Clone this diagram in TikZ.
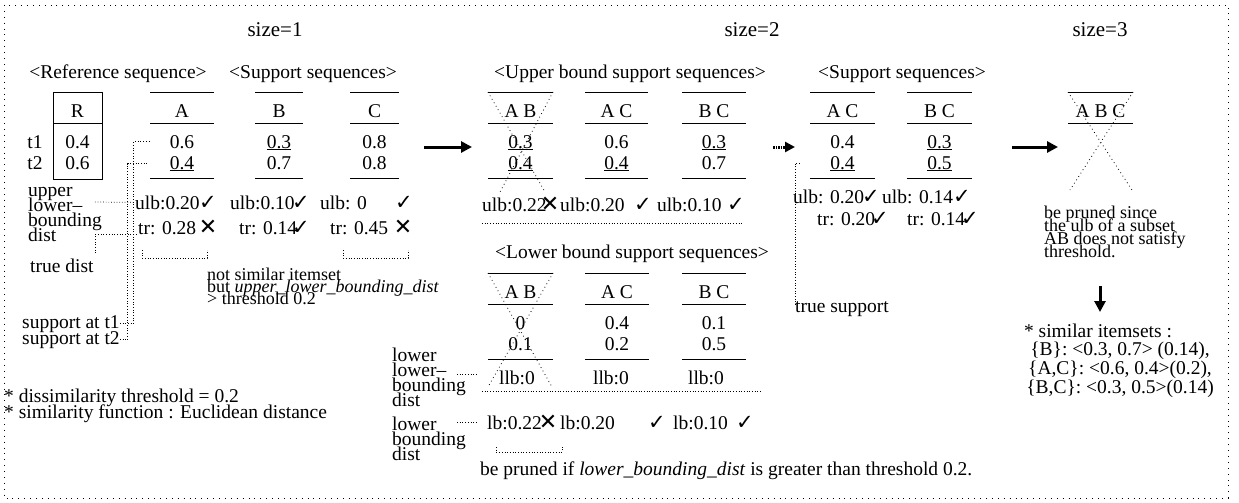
\documentclass[tikz,border=0pt]{standalone}
\usepackage{fontspec}
\setmainfont{Liberation Serif}
\newfontfamily\symfont{DejaVu Sans}
\usetikzlibrary{arrows.meta}

\newcommand\okmark{{\symfont\fontsize{21}{21}\selectfont ✓}}
\newcommand\nomark{{\symfont\fontsize{22}{22}\selectfont ✕}}
\newcommand\tightfont[2]{\fontsize{#1}{#2}\selectfont\setlength{\lineskiplimit}{-100pt}\setlength{\lineskip}{0pt}}

\tikzset{
    txt/.style={inner sep=0pt, anchor=base, font={\tightfont{19.5}{14.7}}},
    lbl/.style={txt, anchor=base west, align=left},
    ttl/.style={txt, font=\fontsize{21}{21}\selectfont},
    rule/.style={line width=0.8pt},
    leader/.style={dotted, line width=0.7pt},
    cutx/.style={dash pattern=on 0.8pt off 3.2pt, line width=0.8pt},
    border/.style={dash pattern=on 0.9pt off 5pt, line width=0.9pt},
    bigarrow/.style={line width=3pt, -{Triangle[length=11pt,width=11pt]}},
    dotarrow/.style={line width=3pt, dash pattern=on 1.5pt off 1pt, -{Triangle[length=10pt,width=10pt]}},
}

\begin{document}
\begin{tikzpicture}[x=1pt, y=-1pt]
    % one support-sequence column: name, left, right, top, header, value t1, value t2
    \def\seqcol#1#2#3#4#5#6#7{
        \draw [rule] (#2,#4) -- (#3,#4) (#2,#4+31) -- (#3,#4+31) (#2,#4+86) -- (#3,#4+86);
        \node [txt] (#1-h) at ({(#2+#3)/2},#4+25) {#5};
        \node [txt] (#1-1) at ({(#2+#3)/2},#4+56) {#6};
        \node [txt] (#1-2) at ({(#2+#3)/2},#4+77) {#7};
    }

    \useasboundingbox (0,0) rectangle (1239,503);
    \draw [border] (4,5) rectangle (1228,498);

    % size = 1
    \node [ttl] (s1) at (275,37) {size=1};
    \node [txt] (refseq) at (118,78) {<Reference sequence>};
    \node [txt] (supseq1) at (313,78) {<Support sequences>};

    \draw [rule] (53,92) rectangle (102,179);
    \draw [rule] (53,123) -- (102,123);
    \node [txt] (R-h) at (77.5,117) {R};
    \node [txt] (R-1) at (77.5,148) {0.4};
    \node [txt] (R-2) at (77.5,169) {0.6};
    \node [txt] (t1) at (35,148) {t1};
    \node [txt] (t2) at (35,169) {t2};

    \seqcol{A}{150}{214}{92}{A}{0.6}{\underline{0.4}}
    \seqcol{B}{255}{303}{92}{B}{\underline{0.3}}{0.7}
    \seqcol{C}{350}{399}{92}{C}{0.8}{0.8}

    \node [lbl] (ulbA) at (135,209) {ulb:0.20};
    \node [txt] (ulbA-m) at (208,209) {\okmark};
    \node [lbl] (trA) at (138,234) {tr: 0.28};
    \node [txt] (trA-m) at (208,234) {\nomark};
    \node [lbl] (ulbB) at (230,209) {ulb:0.10};
    \node [txt] (ulbB-m) at (301,209) {\okmark};
    \node [lbl] (trB) at (239,234) {tr: 0.14};
    \node [txt] (trB-m) at (301,234) {\okmark};
    \node [lbl] (ulbC) at (320,209) {ulb: 0};
    \node [txt] (ulbC-m) at (404,209) {\okmark};
    \node [lbl] (trC) at (330,234) {tr: 0.45};
    \node [txt] (trC-m) at (403,234) {\nomark};

    \node [lbl] (uldist) at (28,241) {upper\\lower–\\bounding\\dist};
    \node [lbl] (truedist) at (30,272) {true dist};
    \node [lbl] (st1) at (22,328) {support at t1};
    \node [lbl] (st2) at (22,344) {support at t2};

    \coordinate (ul-end) at (95,202);
    \coordinate (td-end) at (95,253);
    \draw [leader] (ul-end) -- (ulbA.west);
    \draw [leader] (td-end) |- (trA.south west);
    \draw [leader] (st1.east) -| ([xshift=-36pt]A-1.west) -- ([xshift=-21pt]A-1.west);
    \draw [leader] (st2.east) -| ([xshift=-42pt]A-2.west) -- ([xshift=-21pt]A-2.west);

    \draw [leader] (142,250) |- (207,258) -- (207,250);
    \draw [leader] (343,250) |- (408,258) -- (408,250);
    \node [lbl, font={\tightfont{18}{12}}] (note1) at (207,304)
        {not similar itemset\\but \textit{upper\_lower\_bounding\_dist}\\> threshold 0.2};

    \node [lbl] (thr) at (4,402) {* dissimilarity threshold = 0.2};
    \node [lbl] (simf) at (4,418) {* similarity function : Euclidean distance};

    \draw [bigarrow] (424,147) -- (472,147);

    % size = 2, upper bound
    \node [ttl] (s2) at (752,37) {size=2};
    \node [txt] (ubss) at (630,78) {<Upper bound support sequences>};
    \seqcol{uAB}{488}{553}{92}{A B}{\underline{0.3}}{\underline{0.4}}
    \seqcol{uAC}{585}{648}{92}{A C}{0.6}{\underline{0.4}}
    \seqcol{uBC}{682}{746}{92}{B C}{\underline{0.3}}{0.7}
    \draw [cutx] (488,92) -- (545,192) (553,92) -- (500,192);

    \node [lbl] (ulbAB) at (482,211) {ulb:0.22};
    \node [txt] (ulbAB-m) at (550,211) {\nomark};
    \node [lbl] (ulbAC) at (560,211) {ulb:0.20};
    \node [txt] (ulbAC-m) at (643,211) {\okmark};
    \node [lbl] (ulbBC) at (657,211) {ulb:0.10};
    \node [txt] (ulbBC-m) at (736,211) {\okmark};
    \draw [leader] (482,223) -- (743,223);

    % size = 2, lower bound
    \node [txt] (lbss) at (632,258) {<Lower bound support sequences>};
    \seqcol{lAB}{488}{553}{273}{A B}{0}{0.1}
    \seqcol{lAC}{585}{649}{273}{A C}{0.4}{0.2}
    \seqcol{lBC}{682}{746}{273}{B C}{0.1}{0.5}
    \draw [cutx] (488,273) -- (552,387) (553,273) -- (488,387);

    \node [txt] (llbAB) at (517,384) {llb:0};
    \node [txt] (llbAC) at (611,384) {llb:0};
    \node [txt] (llbBC) at (706,384) {llb:0};
    \draw [leader] (482,391) -- (761,391);

    \node [lbl] (llbd) at (392,406) {lower\\lower–\\bounding\\dist};
    \node [lbl] (lbd) at (392,460) {lower\\bounding\\dist};
    \draw [leader] (457,374) -- (478,374);
    \draw [leader] (457,422) -- (478,422);

    \node [lbl] (lbAB) at (487,429) {lb:0.22};
    \node [txt] (lbAB-m) at (548,429) {\nomark};
    \node [lbl] (lbAC) at (560,429) {lb:0.20};
    \node [txt] (lbAC-m) at (657,429) {\okmark};
    \node [lbl] (lbBC) at (673,429) {lb:0.10};
    \node [txt] (lbBC-m) at (745,429) {\okmark};
    \draw [leader] (496,447) |- (562,452) -- (562,447);
    \node [lbl] (note2) at (480,475)
        {be pruned if \textit{lower\_bounding\_dist} is greater than threshold 0.2.};

    \draw [dotarrow] (773,147) -- (795,147);

    % size = 2, support
    \node [txt] (supseq2) at (902,78) {<Support sequences>};
    \seqcol{sAC}{810}{875}{92}{A C}{0.4}{\underline{0.4}}
    \seqcol{sBC}{907}{972}{92}{B C}{\underline{0.3}}{\underline{0.5}}

    \node [lbl] (ulbsAC) at (793,203) {ulb: 0.20};
    \node [txt] (ulbsAC-m) at (871,203) {\okmark};
    \node [lbl] (trsAC) at (817,225) {tr: 0.20};
    \node [txt] (trsAC-m) at (880,225) {\okmark};
    \node [lbl] (ulbsBC) at (882,203) {ulb: 0.14};
    \node [txt] (ulbsBC-m) at (962,203) {\okmark};
    \node [lbl] (trsBC) at (907,225) {tr: 0.14};
    \node [txt] (trsBC-m) at (970,225) {\okmark};

    \node [lbl] (tsup) at (795,312) {true support};
    \draw [leader] ([yshift=-4pt]tsup.north west) -- (795,163) -- (801,163);

    \draw [bigarrow] (1012,147) -- (1058,147);

    % size = 3
    \node [ttl] (s3) at (1100,37) {size=3};
    \draw [rule] (1068,92) -- (1133,92) (1068,123) -- (1133,123);
    \node [txt] (ABC) at (1100.5,117) {A B C};
    \draw [cutx] (1068,92) -- (1132,190) (1133,92) -- (1070,190);

    \node [lbl, font={\tightfont{18}{13}}] (prune3) at (1044,257)
        {be pruned since\\the ulb of a subset\\AB does not satisfy\\threshold.};
    \draw [bigarrow] (1100,286) -- (1100,312);

    \node [txt] (simt) at (1098,337) {* similar itemsets :};
    \node [txt, align=center, font=\fontsize{19.5}{19}\selectfont] (siml) at (1120,393)
        {\{B\}: <0.3, 0.7> (0.14),\\\{A,C\}: <0.6, 0.4>(0.2),\\\{B,C\}: <0.3, 0.5>(0.14)};
\end{tikzpicture}
\end{document}
